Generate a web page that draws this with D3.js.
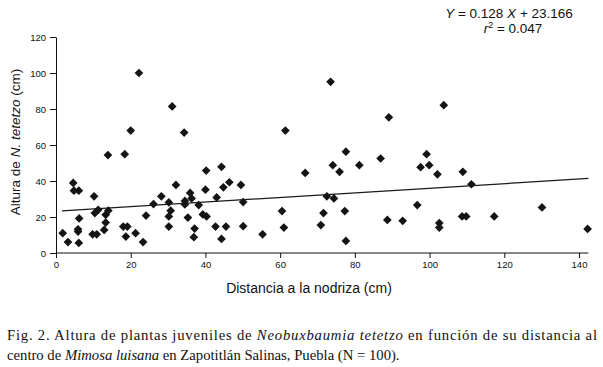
<!DOCTYPE html>
<html lang="es">
<head>
<meta charset="UTF-8">
<script src="https://d3js.org/d3.v7.min.js"></script>
<style>
  body { margin: 0; background: #fff; }
  svg { display: block; }
  .tick text { font-family: "Liberation Sans", Arial, sans-serif; font-size: 9.5px; fill: #111; }
  .tick line, .domain { stroke: #111; }
</style>
</head>
<body>
<div id="chart"></div>
<script>
// distance to nurse plant (cm) and height of juveniles (cm)
var distancia = [1.8, 3.2, 4.6, 4.8, 6.1, 6.2, 5.9, 5.9, 6.1, 10.2, 9.8, 10.9, 10.4, 11.3, 13.3, 14, 13.3, 12.9,
  13.9, 18.4, 18, 19.1, 18.7, 20, 22.2, 21.3, 23.3, 24.1, 26.1, 28.2, 30.2, 30.7, 30.2, 30.2, 31.1, 32.1,
  34.3, 34.5, 34.5, 35.9, 36.3, 35.3, 38.2, 37.1, 36.9, 40.2, 40, 39.3, 40.3, 42.7, 43, 44.3, 44.8, 45.5,
  44.3, 46.4, 49.5, 50.1, 50.1, 55.3, 61.4, 60.5, 61, 66.7, 73.5, 74.1, 75.9, 77.6, 72.5, 74.4, 71.6,
  70.9, 77.3, 77.6, 81.2, 89.1, 86.9, 88.7, 92.8, 96.7, 99.2, 97.6, 99.9, 102.1, 103.8, 102.6, 102.6,
  108.9, 111.2, 108.7, 109.8, 117.3, 130.1, 142.3];
var altura = [11, 6.1, 38.9, 34.6, 34.6, 19.2, 13.2, 11.9, 5.6, 31.5, 10.4, 10.4, 22.2, 24, 21.2, 23.5, 16.9, 12.8,
  54.4, 54.9, 14.7, 14.7, 9.1, 68, 100, 11, 6.1, 20.8, 27.2, 31.5, 28.1, 23.5, 20.3, 14.7, 81.4, 37.8,
  66.9, 28.9, 27, 33.4, 30.3, 19.7, 26.6, 13.6, 8.8, 45.8, 35.2, 21.4, 20.3, 14.7, 30.9, 47.9, 36.5, 14.7,
  7.8, 39.3, 37.8, 28.3, 14.9, 10.4, 68, 23.3, 14.1, 44.5, 95.1, 48.8, 45.1, 56.3, 31.5, 30.3, 22.2,
  15.5, 23.3, 6.7, 48.8, 75.4, 52.5, 18.4, 17.9, 26.6, 54.9, 47.7, 48.8, 43.7, 82.1, 16.6, 14.1,
  45.1, 38.2, 20.3, 20.3, 20.3, 25.3, 13.4];
var xTicks = [0, 20, 40, 60, 80, 100, 120, 140];
var yTicks = [0, 20, 40, 60, 80, 100, 120];
// fitted line as printed on the figure
var pendiente = 0.128, intercepto = 23.166;
var rangoRecta = [1.6, 142.5];

var width = 603, height = 367;
var svg = d3.select("#chart").append("svg")
  .attr("width", width).attr("height", height);

var x = d3.scaleLinear().domain([0, 140]).range([56, 579]);
var y = d3.scaleLinear().domain([0, 120]).range([253, 37]);

// axes
var gx = svg.append("g").attr("transform", "translate(0," + y(0) + ")")
  .call(d3.axisBottom(x).tickValues(xTicks).tickSize(5).tickSizeOuter(0).tickPadding(3));
gx.select(".domain").attr("d", "M" + x(0) + ",0H" + x(142.5));

var gy = svg.append("g").attr("transform", "translate(" + x(0) + ",0)")
  .call(d3.axisLeft(y).tickValues(yTicks).tickSize(6).tickSizeOuter(0).tickPadding(4));

// regression line
svg.append("line")
  .attr("x1", x(rangoRecta[0])).attr("y1", y(pendiente * rangoRecta[0] + intercepto))
  .attr("x2", x(rangoRecta[1])).attr("y2", y(pendiente * rangoRecta[1] + intercepto))
  .attr("stroke", "#1a1a1a").attr("stroke-width", 1.2);

// points, diamonds
var diamante = d3.symbol().type(d3.symbolSquare).size(38);
svg.selectAll("path.pt").data(distancia).enter().append("path")
  .attr("class", "pt")
  .attr("d", diamante)
  .attr("transform", function (d, i) { return "translate(" + x(d) + "," + y(altura[i]) + ") rotate(45)"; })
  .attr("fill", "#141414");

// axis titles
svg.append("text").attr("x", 309).attr("y", 293)
  .attr("text-anchor", "middle")
  .style("font-family", "Liberation Sans, Arial, sans-serif").style("font-size", "14px").style("fill", "#111")
  .text("Distancia a la nodriza (cm)");

var ty = svg.append("text").attr("transform", "translate(20,142) rotate(-90)")
  .attr("text-anchor", "middle")
  .style("font-family", "Liberation Sans, Arial, sans-serif").style("font-size", "13.5px").style("fill", "#111");
ty.append("tspan").text("Altura de ");
ty.append("tspan").style("font-style", "italic").text("N. tetetzo");
ty.append("tspan").text(" (cm)");

// equation
var eq = svg.append("g")
  .style("font-family", "Liberation Sans, Arial, sans-serif").style("font-size", "13.5px").style("fill", "#111");
var e1 = eq.append("text").attr("x", 509).attr("y", 18).attr("text-anchor", "middle");
e1.append("tspan").style("font-style", "italic").text("Y");
e1.append("tspan").text(" = 0.128 ");
e1.append("tspan").style("font-style", "italic").text("X");
e1.append("tspan").text(" + 23.166");
var e2 = eq.append("text").attr("x", 513).attr("y", 33).attr("text-anchor", "middle");
e2.append("tspan").style("font-style", "italic").text("r");
e2.append("tspan").attr("dy", -5).style("font-size", "9px").text("2");
e2.append("tspan").attr("dy", 5).text(" = 0.047");

// caption
var cap = svg.append("g")
  .style("font-family", "Liberation Serif, Times New Roman, serif").style("font-size", "14.7px").style("fill", "#111");
var c1 = cap.append("text").attr("x", 7).attr("y", 340)
  .attr("textLength", 590).attr("lengthAdjust", "spacing");
c1.append("tspan").text("Fig. 2. Altura de plantas juveniles de ");
c1.append("tspan").style("font-style", "italic").text("Neobuxbaumia tetetzo");
c1.append("tspan").text(" en función de su distancia al");
var c2 = cap.append("text").attr("x", 7).attr("y", 360);
c2.append("tspan").text("centro de ");
c2.append("tspan").style("font-style", "italic").text("Mimosa luisana");
c2.append("tspan").text(" en Zapotitlán Salinas, Puebla (N = 100).");
</script>
</body>
</html>
